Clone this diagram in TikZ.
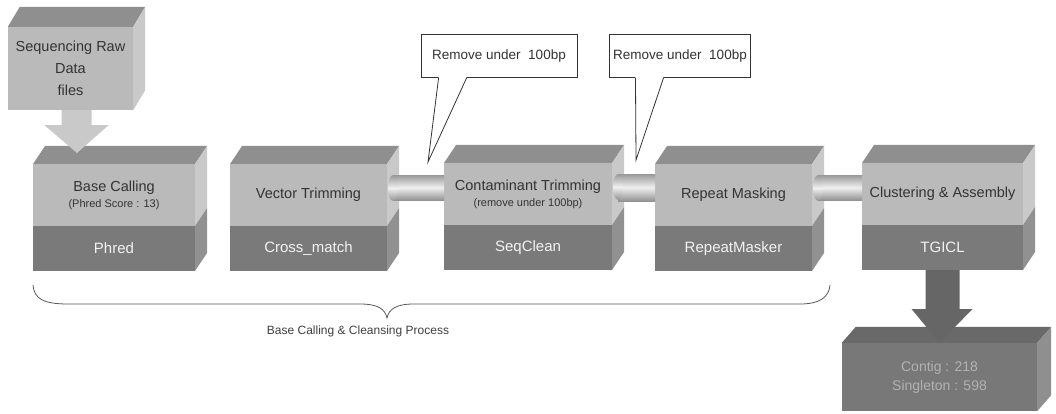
\documentclass[tikz,border=0pt]{standalone}
\usepackage{fontspec}
\setmainfont{Liberation Sans}
\usetikzlibrary{positioning,calc}
\definecolor{boxfront}{gray}{0.73}
\definecolor{boxtop}{gray}{0.56}
\definecolor{boxside}{gray}{0.79}
\definecolor{toolfront}{gray}{0.48}
\definecolor{toolside}{gray}{0.57}
\definecolor{resfront}{gray}{0.47}
\definecolor{restop}{gray}{0.41}
\definecolor{resside}{gray}{0.56}

\begin{document}
\begin{tikzpicture}[x=1pt,y=-1pt,
    stage_top/.style={rectangle,fill=boxfront,text=black!80,minimum width=160pt,minimum height=62pt,inner sep=0pt,outer sep=0pt,align=center,font=\fontsize{14.5}{19}\selectfont},
    stage_tool/.style={rectangle,fill=toolfront,text=white!90!gray,minimum width=160pt,minimum height=45pt,inner sep=0pt,outer sep=0pt,font=\fontsize{15}{18}\selectfont},
    sub_text/.style={font=\fontsize{11}{13}\selectfont},
    note_box/.style={rectangle,draw=black!80,fill=white,line width=0.8pt,minimum width=156pt,minimum height=43pt,text=black!80,font=\fontsize{13.5}{16}\selectfont},
    tube/.style={top color=gray!80,bottom color=gray!85,middle color=gray!12},
    pointer/.style={draw=black!80,line width=0.8pt}]
    \useasboundingbox[fill=white] (0,0) rectangle (1056,414);

    % input data
    \node[rectangle,fill=boxfront,text=black!80,minimum width=125pt,minimum height=83pt,inner sep=0pt,align=center,font=\fontsize{14.5}{22}\selectfont] (data) at (70.5,68.5) {Sequencing Raw\\Data\\files};
    \fill[boxtop] (data.north west) -- ++(12,-20) -- ($(data.north east)+(12,-20)$) -- (data.north east) -- cycle;
    \fill[boxside] (data.north east) -- ++(12,-20) -- ($(data.south east)+(12,-20)$) -- (data.south east) -- cycle;

    % stages
    \node[stage_top,minimum width=162pt] (bc) at (114,195) {Base Calling\\[-3pt]{\fontsize{11}{13}\selectfont (Phred Score : 13)}};
    \node[stage_tool,minimum width=162pt,below=0pt of bc] (bc_tool) {Phred};
    \node[stage_top,minimum width=157pt] (vt) at (308.5,195) {Vector Trimming};
    \node[stage_tool,minimum width=157pt,below=0pt of vt] (vt_tool) {Cross\_match};
    \node[stage_top,minimum width=168pt] (ct) at (528,194) {Contaminant Trimming\\[-3pt]{\fontsize{11}{13}\selectfont (remove under 100bp)}};
    \node[stage_tool,minimum width=168pt,below=0pt of ct] (ct_tool) {SeqClean};
    \node[stage_top,minimum width=157pt] (rm) at (733.5,195) {Repeat Masking};
    \node[stage_tool,minimum width=157pt,below=0pt of rm] (rm_tool) {RepeatMasker};
    \node[stage_top,minimum width=161pt] (ca) at (942.5,194) {Clustering \& Assembly};
    \node[stage_tool,minimum width=161pt,below=0pt of ca] (ca_tool) {TGICL};

    \foreach \n in {bc,vt,ct,rm,ca}{
        \fill[boxtop] (\n.north west) -- ++(12,-18) -- ($(\n.north east)+(12,-18)$) -- (\n.north east) -- cycle;
        \fill[boxside] (\n.north east) -- ++(12,-18) -- ($(\n.south east)+(12,-18)$) -- (\n.south east) -- cycle;
        \fill[toolside] (\n.south east) -- ++(12,-18) -- ($(\n_tool.south east)+(12,-18)$) -- (\n_tool.south east) -- cycle;
    }

    % tubes between stages
    \foreach \a/\b in {vt/ct,ct/rm,rm/ca}{
        \shade[tube] ($(\a.north east)+(6,11)$) rectangle ($(\b.north west)+(0,37)$);
        \shade[tube] ($(\a.north east)+(6,24)$) ellipse [x radius=5pt,y radius=13pt];
    }

    % arrow data -> base calling
    \fill[gray!42] ($(data.south)+(-9,0)$) -- ++(30,0) -- ++(0,15) -- ++(17,0) -- ($(bc.north west)+(44,-11)$) -- ($(data.south)+(-26,15)$) -- ++(17,0) -- cycle;

    % result
    \node[rectangle,fill=resfront,text=gray!60!white,minimum width=195pt,minimum height=68pt,inner sep=0pt,align=center,font=\fontsize{14}{19}\selectfont] (res) at (939.5,377) {Contig : 218\\Singleton : 598};
    \fill[restop] (res.north west) -- ++(14,-16) -- ($(res.north east)+(14,-16)$) -- (res.north east) -- cycle;
    \fill[resside] (res.north east) -- ++(14,-16) -- ($(res.south east)+(14,-16)$) -- (res.south east) -- cycle;
    \fill[black!60] ($(ca_tool.south)+(-17,0)$) -- ++(34,0) -- ++(0,39) -- ++(13,0) -- ($(res.north)+(0,0)$) -- ($(ca_tool.south)+(-31,39)$) -- ++(14,0) -- cycle;

    % callouts
    \node[note_box] (note1) at (499,56) {Remove under\ \ 100bp};
    \node[note_box,minimum width=140pt] (note2) at (680,56) {Remove under\ \ 100bp};
    \coordinate (tip1) at (428,162);
    \coordinate (tip2) at (636,160);
    \fill[white] ($(note1.south west)+(18,-1)$) -- (tip1) -- ($(note1.south west)+(46,-1)$) -- cycle;
    \draw[pointer] ($(note1.south west)+(18,0)$) -- (tip1) -- ($(note1.south west)+(46,0)$);
    \fill[white] ($(note2.south west)+(26,-1)$) -- (tip2) -- ($(note2.south west)+(54,-1)$) -- cycle;
    \draw[pointer] ($(note2.south west)+(26,0)$) -- (tip2) -- ($(note2.south west)+(54,0)$);

    % brace
    \draw[black!65,line width=0.8pt] (33,285) .. controls (34,299) and (44,304) .. (68,304) -- (360,304) .. controls (378,304) and (385,309) .. (387,318) .. controls (389,309) and (396,304) .. (414,304) -- (800,304) .. controls (820,304) and (829,297) .. (830,285);
    \node[text=black!75,font=\fontsize{12}{14}\selectfont] (proc) at (358,331) {Base Calling \& Cleansing Process};
\end{tikzpicture}
\end{document}
